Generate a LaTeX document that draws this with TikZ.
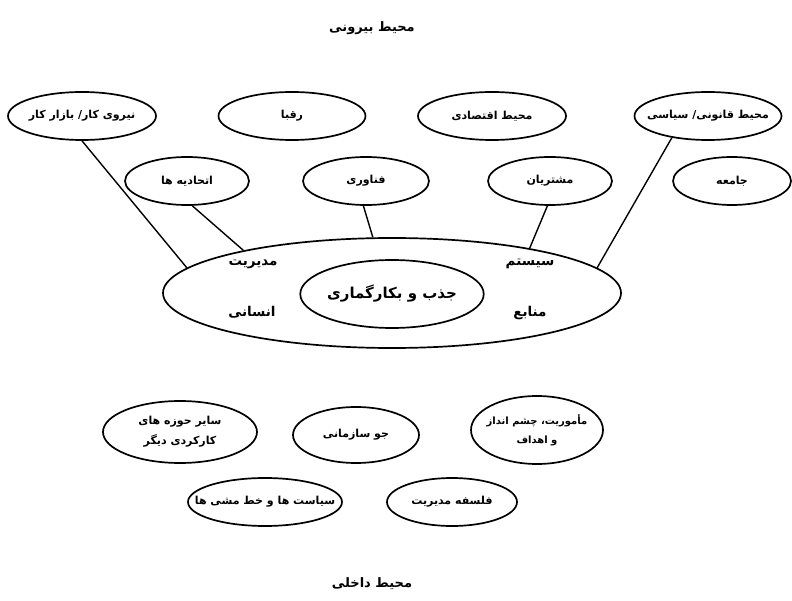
\documentclass[tikz,border=0pt]{standalone}
\usepackage{fontspec}
\usetikzlibrary{shapes.geometric}
\TeXXeTstate=1
\newfontfamily\arabicfont[Script=Arabic]{DejaVu Sans}
\newcommand{\fa}[1]{{\arabicfont\beginR #1\endR}}
\tikzset{
  ov/.style={draw, ellipse, line width=1.7pt, inner ysep=0pt, inner xsep=-20pt, font=\fontsize{11}{20}\selectfont\bfseries},
  lbl/.style={inner sep=0pt, font=\fontsize{13.5}{15}\selectfont\bfseries},
  conn/.style={line width=1.4pt},
}
\begin{document}
\begin{tikzpicture}[x=1pt,y=-1pt]
\useasboundingbox (0,0) rectangle (792,601);
% titles
\node[lbl, font=\fontsize{13}{15}\selectfont\bfseries] (outer) at (372,28) {\fa{محیط بیرونی}};
\node[lbl, font=\fontsize{13}{15}\selectfont\bfseries] (inner) at (372,584) {\fa{محیط داخلی}};
% external ellipses
\node[ov, minimum width=148pt, minimum height=48pt] (labor) at (82,116) {\fa{نیروی کار/ بازار کار}};
\node[ov, minimum width=147pt, minimum height=48pt] (rivals) at (292,116) {\fa{رقبا}};
\node[ov, minimum width=148pt, minimum height=48pt] (econ) at (492,116) {\fa{محیط اقتصادی}};
\node[ov, minimum width=147pt, minimum height=48pt] (law) at (708,116) {\fa{محیط قانونی/ سیاسی}};
\node[ov, minimum width=124pt, minimum height=48pt] (union) at (187,181) {\fa{اتحادیه ها}};
\node[ov, minimum width=126pt, minimum height=48pt] (tech) at (366,181) {\fa{فناوری}};
\node[ov, minimum width=124pt, minimum height=48pt] (cust) at (550,181) {\fa{مشتریان}};
\node[ov, minimum width=118pt, minimum height=48pt] (soc) at (732,181) {\fa{جامعه}};
% central ellipse
\node[draw, ellipse, line width=1.7pt, minimum width=458pt, minimum height=110pt] (hrm) at (392,293) {};
\node[draw, ellipse, line width=1.7pt, minimum width=180pt, minimum height=68pt, inner sep=0pt,
  font=\fontsize{15}{17}\selectfont\bfseries] (recruit) at (392,294) {\fa{جذب و بکارگماری}};
\node[lbl] (m1) at (253,264) {\fa{مدیریت}};
\node[lbl] (m2) at (252,312) {\fa{انسانی}};
\node[lbl] (s1) at (530,264) {\fa{سیستم}};
\node[lbl] (s2) at (530,313) {\fa{منابع}};
% connectors
\draw[conn] (labor.south) -- (hrm.173.3);
\draw[conn] (union.-78) -- (hrm.164.9);
\draw[conn] (tech.-96) -- (hrm.109.7);
\draw[conn] (cust.-96) -- (hrm.18.6);
\draw[conn] (law.-149) -- (hrm.7);
% internal ellipses
\node[ov, minimum width=154pt, minimum height=62pt, align=center] (other) at (180,432) {\fa{سایر حوزه های}\\\fa{کارکردی دیگر}};
\node[ov, minimum width=126pt, minimum height=56pt] (climate) at (356,435) {\fa{جو سازمانی}};
\node[ov, minimum width=132pt, minimum height=68pt, align=center, font=\fontsize{10}{19}\selectfont\bfseries] (mission) at (537,430) {\fa{مأموریت، چشم انداز}\\\fa{و اهداف}};
\node[ov, minimum width=154pt, minimum height=48pt] (policy) at (265,502) {\fa{سیاست ها و خط مشی ها}};
\node[ov, minimum width=130pt, minimum height=48pt] (phil) at (452,502) {\fa{فلسفه مدیریت}};
\end{tikzpicture}
\end{document}
